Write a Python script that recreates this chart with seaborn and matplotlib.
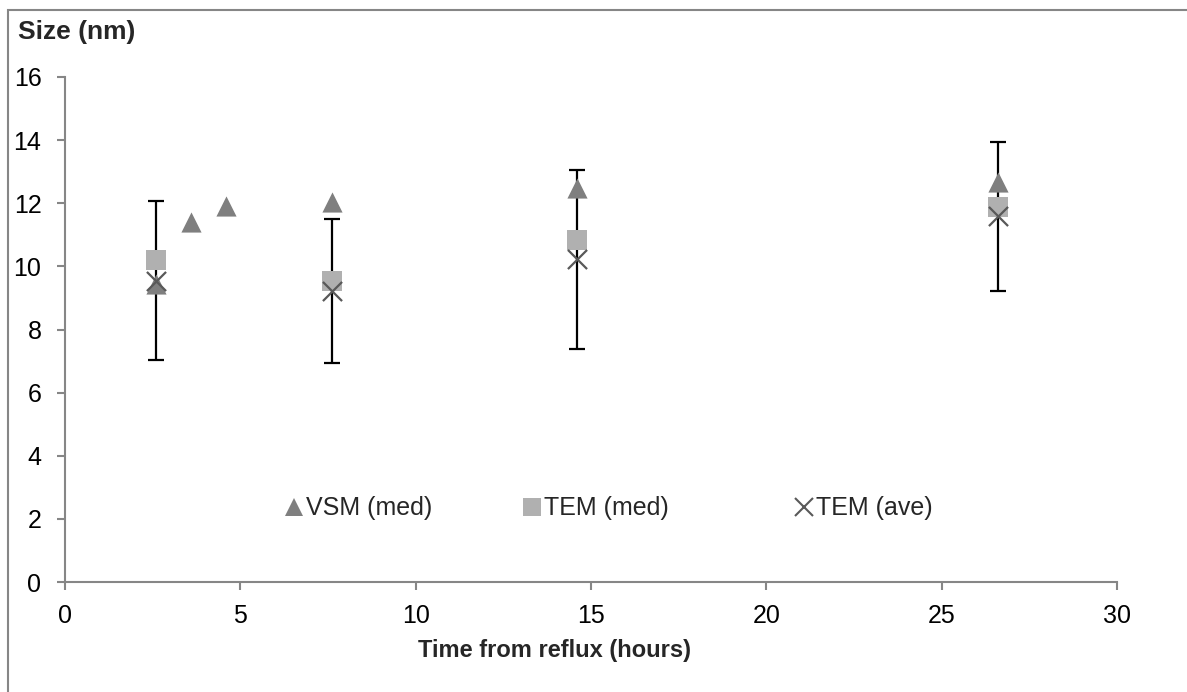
import matplotlib
matplotlib.use("Agg")
import matplotlib.pyplot as plt
import seaborn as sns
import numpy as np
import pandas as pd
from matplotlib.patches import Rectangle
from matplotlib.lines import Line2D

# ---- data ----
vsm_time = [2.6, 3.6, 4.6, 7.6, 14.6, 26.6]
vsm_med = [9.45, 11.42, 11.91, 12.05, 12.47, 12.68]

tem_time = [2.6, 7.6, 14.6, 26.6]
tem_med = [10.19, 9.55, 10.83, 11.89]
tem_ave = [9.55, 9.22, 10.22, 11.59]
tem_err = [2.53, 2.29, 2.83, 2.36]

x_ticks = [0, 5, 10, 15, 20, 25, 30]
y_ticks = [0, 2, 4, 6, 8, 10, 12, 14, 16]

series_names = ["VSM (med)", "TEM (med)", "TEM (ave)"]

# ---- style ----
sns.set_style("white")
plt.rcParams['font.family'] = ['Liberation Sans', 'DejaVu Sans']

W, H = 1187, 692
fig = plt.figure(figsize=(W / 100, H / 100), dpi=100)
ax = fig.add_axes([65 / W, 1 - 582 / H, (1117 - 65) / W, (582 - 77) / H])

grey_axis = '#868686'
c_vsm = '#7f7f7f'
c_med = '#b0b0b0'
c_ave = '#595959'

# error bars (behind markers)
ax.errorbar(tem_time, tem_ave, yerr=tem_err, fmt='none', ecolor='black',
            elinewidth=1.6, capsize=6, capthick=1.6, zorder=1)

df_vsm = pd.DataFrame({"t": vsm_time, "v": vsm_med})
df_tem = pd.DataFrame({"t": tem_time, "med": tem_med, "ave": tem_ave})

ms = 14.5
sns.scatterplot(data=df_vsm, x="t", y="v", marker='^', s=ms ** 2, color=c_vsm,
                edgecolor=c_vsm, linewidth=0, ax=ax, zorder=3)
sns.scatterplot(data=df_tem, x="t", y="med", marker='s', s=ms ** 2, color=c_med,
                edgecolor=c_med, linewidth=0, ax=ax, zorder=4)
sns.scatterplot(data=df_tem, x="t", y="ave", marker='x', s=(ms * 0.95) ** 2, color=c_ave,
                linewidth=1.6, ax=ax, zorder=5)

ax.set_xlim(0, 30)
ax.set_ylim(0, 16)
ax.set_xticks(x_ticks)
ax.set_yticks(y_ticks)
ax.set_xlabel("")
ax.set_ylabel("")

for s in ['top', 'right']:
    ax.spines[s].set_visible(False)
for s in ['left', 'bottom']:
    ax.spines[s].set_color(grey_axis)
    ax.spines[s].set_linewidth(1.5)

ax.tick_params(axis='both', which='major', direction='out', length=6, width=1.5,
               color=grey_axis, labelsize=18, labelcolor='black')
ax.tick_params(axis='y', pad=11, left=True)
ax.tick_params(axis='x', pad=10, bottom=True)

# legend: three fixed-width entries, as in the original
handles = [
    Line2D([], [], linestyle='none', marker='^', markersize=13, color=c_vsm, markeredgewidth=0),
    Line2D([], [], linestyle='none', marker='s', markersize=13, color=c_med, markeredgewidth=0),
    Line2D([], [], linestyle='none', marker='x', markersize=13, color=c_ave, markeredgewidth=1.5),
]
entry_left = [(285 - 65) / 1052, (523 - 65) / 1052, (795 - 65) / 1052]
for i, (h, name) in enumerate(zip(handles, series_names)):
    lg = ax.legend([h], [name], loc='center left', bbox_to_anchor=(entry_left[i], 0.146),
                   frameon=False, fontsize=18, handlelength=0.7, handletextpad=0.12,
                   borderpad=0, borderaxespad=0)
    if i < len(handles) - 1:
        ax.add_artist(lg)

# axis titles
fig.text(18 / W, 1 - 32 / H, "Size (nm)", fontsize=19, fontweight='bold',
         ha='left', va='center')
fig.text(554 / W, 1 - 651 / H, "Time from reflux (hours)", fontsize=17,
         fontweight='bold', ha='center', va='center')

# outer chart border (cropped at right/bottom)
fig.add_artist(Rectangle((8 / W, -0.2), 1.5, 1 - 10 / H + 0.2, transform=fig.transFigure,
                         fill=False, edgecolor=grey_axis, linewidth=1.5, clip_on=False))

fig.savefig("out.png", dpi=100)
